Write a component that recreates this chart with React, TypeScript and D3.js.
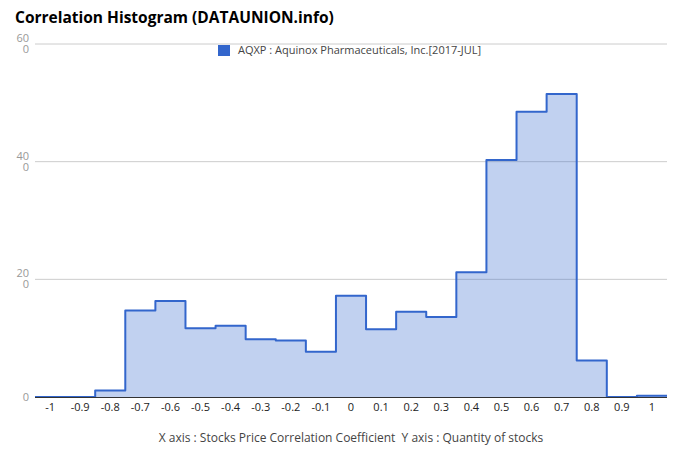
import React from "react";
import * as d3 from "d3";

const W = 680;
const H = 462;

const binCenters = [-1, -0.9, -0.8, -0.7, -0.6, -0.5, -0.4, -0.3, -0.2, -0.1, 0, 0.1, 0.2, 0.3, 0.4, 0.5, 0.6, 0.7, 0.8, 0.9, 1];
const counts = [0, 0, 1.1, 14.7, 16.3, 11.7, 12.1, 9.8, 9.6, 7.7, 17.2, 11.5, 14.5, 13.6, 21.2, 40.3, 48.5, 51.5, 6.2, 0, 0.2];
const xTickLabels = ["-1", "-0.9", "-0.8", "-0.7", "-0.6", "-0.5", "-0.4", "-0.3", "-0.2", "-0.1", "0", "0.1", "0.2", "0.3", "0.4", "0.5", "0.6", "0.7", "0.8", "0.9", "1"];
const yTicks = [0, 20, 40, 60];
const yTickLabels = [["0"], ["20", "0"], ["40", "0"], ["60", "0"]];
const title = "Correlation Histogram (DATAUNION.info)";
const legendLabel = "AQXP : Aquinox Pharmaceuticals, Inc.[2017-JUL]";
const caption = "X axis : Stocks Price Correlation Coefficient\u00a0\u00a0Y axis : Quantity of stocks";

const FONT = "'Open Sans', 'Noto Sans', sans-serif";

export default function App() {
  const x = d3.scaleLinear().domain([-1.05, 1.05]).range([35, 667]);
  const y = d3.scaleLinear().domain([0, 60]).range([397, 44]);
  const half = 0.05;

  const pts: [number, number][] = binCenters.map((c, i) => [c - half, counts[i]]);
  pts.push([binCenters[binCenters.length - 1] + half, counts[counts.length - 1]]);

  const area = d3
    .area<[number, number]>()
    .x((d) => x(d[0]))
    .y0(y(0))
    .y1((d) => y(d[1]))
    .curve(d3.curveStepAfter);
  const line = d3
    .line<[number, number]>()
    .x((d) => x(d[0]))
    .y((d) => y(d[1]))
    .curve(d3.curveStepAfter);

  return (
    <svg width={W} height={H} style={{ position: "absolute", left: 0, top: 0, background: "#fff" }} fontFamily={FONT}>
      <text x={15} y={23} fontSize={15.5} fontWeight="bold" fill="#000">{title}</text>

      {yTicks.map((t, i) => (
        <g key={t}>
          {t > 0 && <line x1={35} x2={667} y1={y(t)} y2={y(t)} stroke="#cccccc" strokeWidth={1} />}
          {yTickLabels[i].length === 1 ? (
            <text x={29} y={y(t) + 4} fontSize={11} fill="#999" textAnchor="end">{yTickLabels[i][0]}</text>
          ) : (
            <text x={29} y={y(t) - 2} fontSize={11} fill="#999" textAnchor="end">
              {yTickLabels[i].map((s, k) => (
                <tspan key={k} x={29} dy={k === 0 ? 0 : 11}>{s}</tspan>
              ))}
            </text>
          )}
        </g>
      ))}

      <path d={area(pts) || ""} fill="#3366cc" fillOpacity={0.3} stroke="none" />
      <path d={line(pts) || ""} fill="none" stroke="#3366cc" strokeWidth={2} strokeLinejoin="round" />
      <line x1={35} x2={667} y1={y(0) + 0.5} y2={y(0) + 0.5} stroke="#333" strokeWidth={1} />

      {binCenters.map((c, i) => (
        <text key={c} x={x(c)} y={411} fontSize={11} fill="#222" textAnchor="middle">{xTickLabels[i]}</text>
      ))}

      <rect x={218} y={45} width={12} height={11} fill="#3366cc" />
      <text x={238} y={54} fontSize={11} fill="#444">{legendLabel}</text>

      <text x={351} y={442} fontSize={12} fill="#444" textAnchor="middle">{caption}</text>
    </svg>
  );
}
